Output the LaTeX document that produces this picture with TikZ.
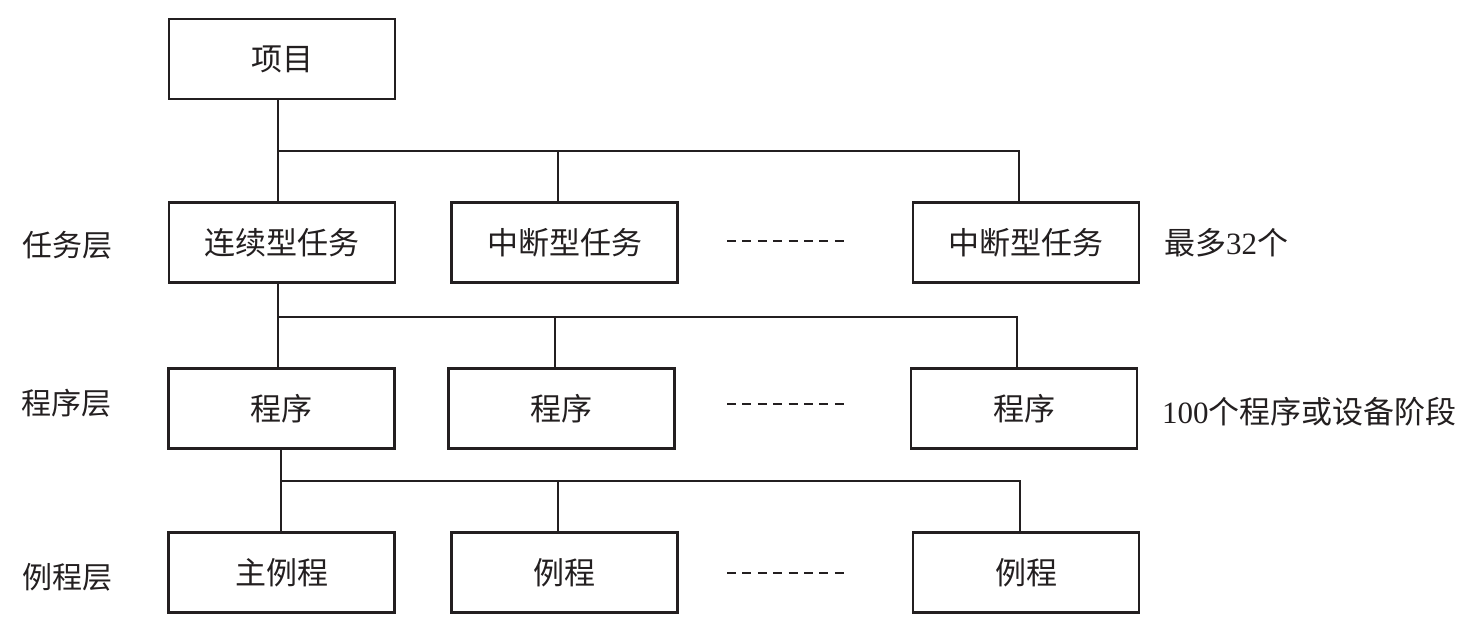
\documentclass[tikz,border=0pt]{standalone}
\usepackage{fontspec}
\setmainfont{Liberation Serif}
\newfontfamily\cjk{Noto Sans CJK SC}
\definecolor{ink}{HTML}{231F20}
\begin{document}
\begin{tikzpicture}[x=1pt,y=-1pt,
  box/.style={draw=ink,line width=2.8pt,rectangle,inner sep=0pt,
    minimum width=226pt,minimum height=80pt,font=\cjk\fontsize{31}{36}\selectfont,text=ink},
  lbl/.style={inner sep=0pt,font=\cjk\fontsize{30}{36}\selectfont,text=ink},
  side/.style={inner sep=0pt,anchor=west,font=\fontsize{31}{36}\selectfont,text=ink},
  link/.style={draw=ink,line width=1.8pt},
  dotline/.style={draw=ink,line width=1.6pt,dash pattern=on 9pt off 6.4pt}]
\useasboundingbox (0,0) rectangle (1478,633);
% boxes
\node[box] (proj) at (282,59) {项目};
\node[box] (t1) at (282,242.5) {连续型任务};
\node[box] (t2) at (564.5,242.5) {中断型任务};
\node[box] (t3) at (1026,242.5) {中断型任务};
\node[box] (p1) at (281.5,408.5) {程序};
\node[box] (p2) at (561.5,408.5) {程序};
\node[box] (p3) at (1024,408.5) {程序};
\node[box] (r1) at (281.5,572.5) {主例程};
\node[box] (r2) at (564.5,572.5) {例程};
\node[box] (r3) at (1026,572.5) {例程};
% layer labels
\node[lbl] (lt) at (67,245) {任务层};
\node[lbl] (lp) at (66,403) {程序层};
\node[lbl] (lr) at (67,577) {例程层};
% side notes
\node[side] (nt) at (1164,243) {{\cjk 最多}32{\cjk 个}};
\node[side] (np) at (1162,412) {100{\cjk 个程序或设备阶段}};
% bus 1
\coordinate (b1a) at (278,151);
\coordinate (b1b) at (558,151);
\coordinate (b1c) at (1019,151);
\draw[link] (proj.south -| b1a) -- (t1.north -| b1a);
\draw[link] (b1a) -- (b1c) -- (t3.north -| b1c);
\draw[link] (b1b) -- (t2.north -| b1b);
% bus 2
\coordinate (b2a) at (278,317);
\coordinate (b2b) at (555,317);
\coordinate (b2c) at (1017,317);
\draw[link] (t1.south -| b2a) -- (p1.north -| b2a);
\draw[link] (b2a) -- (b2c) -- (p3.north -| b2c);
\draw[link] (b2b) -- (p2.north -| b2b);
% bus 3
\coordinate (b3a) at (281,481);
\coordinate (b3b) at (558,481);
\coordinate (b3c) at (1020,481);
\draw[link] (p1.south -| b3a) -- (r1.north -| b3a);
\draw[link] (b3a) -- (b3c) -- (r3.north -| b3c);
\draw[link] (b3b) -- (r2.north -| b3b);
% ellipsis dashes
\coordinate (e1a) at (727,241);
\coordinate (e1b) at (845,241);
\coordinate (e2a) at (727,404);
\coordinate (e2b) at (845,404);
\coordinate (e3a) at (727,573);
\coordinate (e3b) at (845,573);
\draw[dotline] (e1a) -- (e1b);
\draw[dotline] (e2a) -- (e2b);
\draw[dotline] (e3a) -- (e3b);
\end{tikzpicture}
\end{document}
